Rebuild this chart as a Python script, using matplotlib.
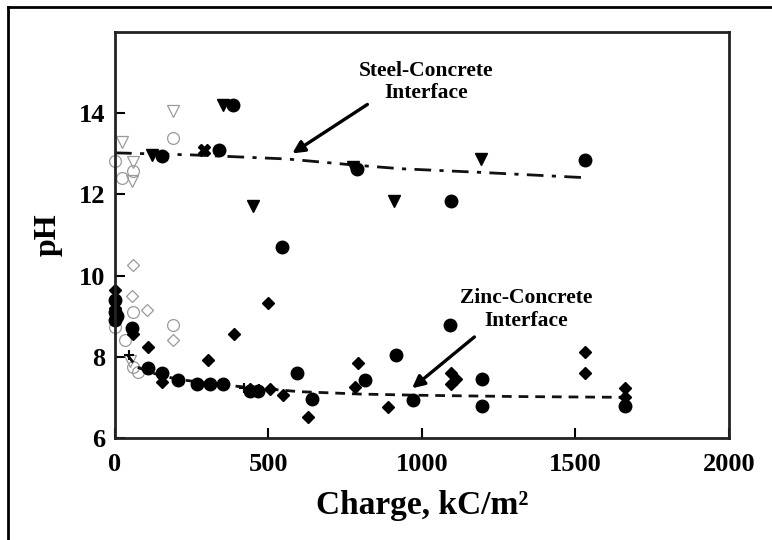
import matplotlib
matplotlib.use("Agg")
import matplotlib.pyplot as plt
from matplotlib.lines import Line2D

plt.rcParams['font.family'] = ['Liberation Serif', 'DejaVu Serif']
plt.rcParams['font.weight'] = 'bold'

# measured pH vs. cumulative charge, grouped by symbol
circ_x = [0, 0, 0, 8, 54, 108, 152, 152, 206, 267, 309, 340, 353, 385, 440, 466,
          545, 592, 641, 790, 814, 917, 972, 1090, 1095, 1195, 1195, 1530, 1662]
circ_y = [9.4, 9.1, 8.9, 9.0, 8.7, 7.72, 7.6, 12.95, 7.42, 7.34, 7.34, 13.1, 7.34, 14.2,
          7.16, 7.16, 10.69, 7.61, 6.97, 12.62, 7.42, 8.04, 6.93, 8.78, 11.83, 7.46,
          6.78, 12.84, 6.78]

diam_x = [0, 0, 58, 108, 152, 304, 389, 440, 497, 505, 548, 630, 782, 793, 890,
          1095, 1095, 1110, 1530, 1530, 1662, 1662]
diam_y = [9.65, 9.2, 8.57, 8.24, 7.37, 7.91, 8.56, 7.2, 9.33, 7.2, 7.05, 6.52, 7.26,
          7.85, 6.77, 7.6, 7.33, 7.45, 8.12, 7.59, 7.22, 7.0]

tri_x = [120, 353, 449, 777, 910, 1191]
tri_y = [12.96, 14.21, 11.71, 12.66, 11.84, 12.88]

cross_x = [290]
cross_y = [13.1]

plus_x = [45, 420, 470]
plus_y = [8.05, 7.22, 7.2]

# early readings, open symbols
ocirc_x = [0, 22, 59, 189, 59, 189, 0, 33, 59, 75]
ocirc_y = [12.82, 12.41, 12.58, 13.39, 9.1, 8.77, 8.73, 8.4, 7.75, 7.63]

odiam_x = [59, 54, 103, 189]
odiam_y = [10.25, 9.5, 9.14, 8.4]

otri_x = [22, 59, 189, 54, 49]
otri_y = [13.3, 12.8, 14.05, 12.33, 7.9]

# trend curves
steel_x = [0, 250, 560, 780, 930, 1190, 1530]
steel_y = [13.02, 12.97, 12.87, 12.72, 12.63, 12.54, 12.41]

zinc_x = [40, 70, 120, 200, 300, 400, 600, 800, 1000, 1300, 1662]
zinc_y = [8.05, 7.75, 7.6, 7.45, 7.35, 7.27, 7.14, 7.08, 7.05, 7.02, 7.0]

fig = plt.figure(figsize=(7.72, 5.40), dpi=100)
ax = fig.add_axes([0.149, 0.189, 0.795, 0.752])

grey = '#9a9a9a'
ax.plot(ocirc_x, ocirc_y, 'o', ms=8.5, mfc='none', mec=grey, mew=0.9, clip_on=False)
ax.plot(odiam_x, odiam_y, 'D', ms=6.5, mfc='none', mec=grey, mew=0.9, clip_on=False)
ax.plot(otri_x, otri_y, 'v', ms=8.5, mfc='none', mec=grey, mew=0.9, clip_on=False)

ax.plot(steel_x, steel_y, color='#111111', lw=2, dashes=(6, 3, 1.5, 3))
ax.plot(zinc_x, zinc_y, color='#111111', lw=2, dashes=(3.5, 2.5))

ax.plot(circ_x, circ_y, 'o', ms=9, color='black', clip_on=False)
ax.plot(diam_x, diam_y, 'D', ms=6, color='black', clip_on=False)
ax.plot(tri_x, tri_y, 'v', ms=8.5, color='black')
ax.plot(cross_x, cross_y, 'X', ms=8, color='black')
ax.plot(plus_x, plus_y, '+', ms=7, mew=1.5, color='black')

ax.set_xlim(0, 2000)
ax.set_ylim(6, 16)
ax.set_xticks([0, 500, 1000, 1500, 2000])
ax.set_yticks([6, 8, 10, 12, 14])
ax.tick_params(direction='in', length=7, width=1.5, labelsize=19, top=False, right=False)
ax.tick_params(axis='x', pad=11)
ax.tick_params(axis='y', pad=7)
for s in ax.spines.values():
    s.set_linewidth(2)
    s.set_color('#222222')

ax.set_xlabel('Charge, kC/m²', fontsize=24, fontweight='bold', labelpad=10)
ax.set_ylabel('pH', fontsize=23, fontweight='bold', labelpad=12)

ax.text(1013, 14.77, 'Steel-Concrete\nInterface', ha='center', va='center',
        fontsize=15.5, fontweight='bold', linespacing=1.15)
ax.annotate('', xy=(570, 12.97), xytext=(830, 14.25),
            arrowprops=dict(arrowstyle='-|>', color='black', lw=2.4, mutation_scale=18))

ax.text(1341, 9.16, 'Zinc-Concrete\nInterface', ha='center', va='center',
        fontsize=15.5, fontweight='bold', linespacing=1.15)
ax.annotate('', xy=(961, 7.18), xytext=(1178, 8.53),
            arrowprops=dict(arrowstyle='-|>', color='black', lw=2.4, mutation_scale=18))

# page border on the left and top
fig.add_artist(Line2D([8 / 772, 8 / 772], [0, 1 - 7 / 540], color='black', lw=2,
                      transform=fig.transFigure))
fig.add_artist(Line2D([8 / 772, 1], [1 - 7 / 540, 1 - 7 / 540], color='black', lw=2,
                      transform=fig.transFigure))

fig.savefig('out.png', dpi=100)
